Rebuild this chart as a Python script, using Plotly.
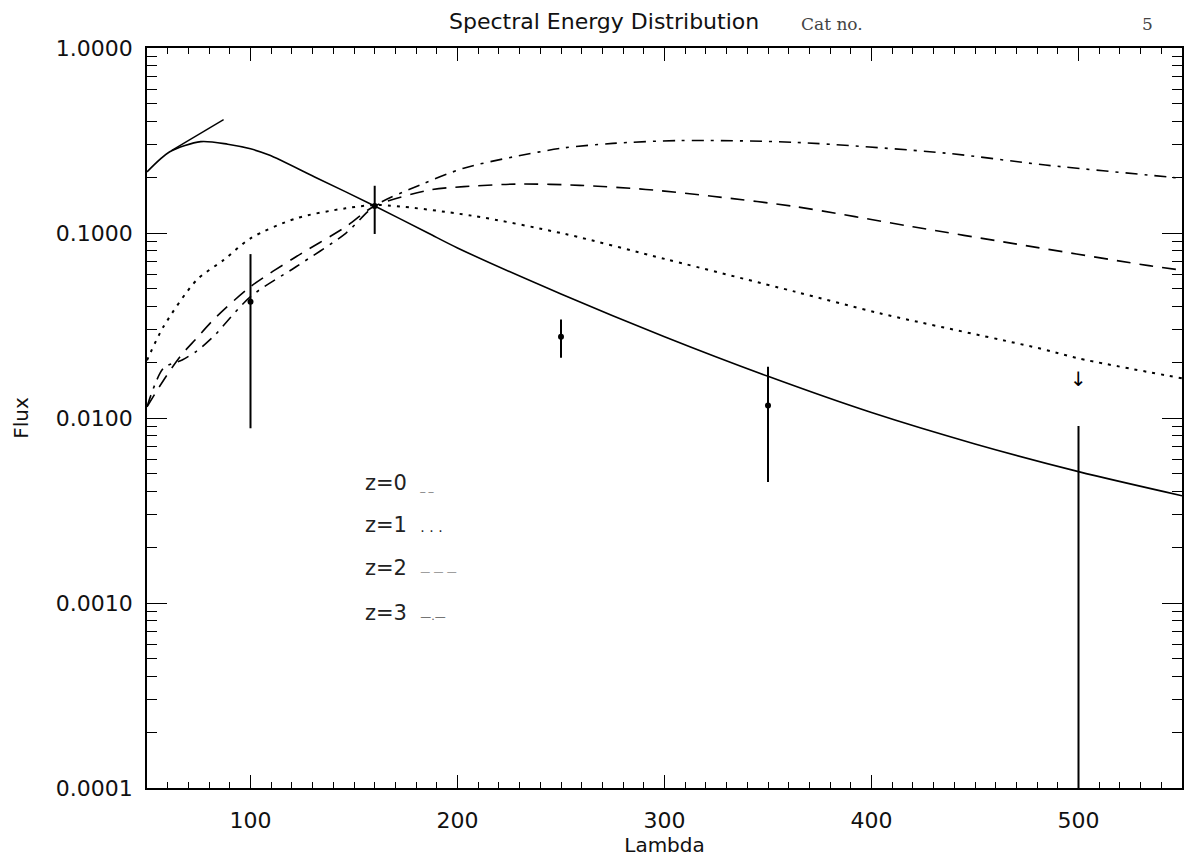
import math
import plotly.graph_objects as go

# ---- model curves (lambda, flux) ----
z0_lam = [50, 61, 76, 89, 100, 109, 131, 160, 186, 200, 250, 300, 350, 400, 450, 500, 550]
z0_flux = [0.214, 0.275, 0.312, 0.302, 0.285, 0.264, 0.201, 0.140, 0.0996, 0.083, 0.0468, 0.0275,
           0.0168, 0.0107, 0.00724, 0.00513, 0.0038]

tan_lam = [62, 87]
tan_flux = [0.28, 0.41]

z1_lam = [50, 58, 74, 87, 100, 122, 146, 162, 207, 252, 301, 363, 404, 481, 500, 550]
z1_flux = [0.0205, 0.0312, 0.0557, 0.0714, 0.0936, 0.120, 0.136, 0.1416, 0.124, 0.0988, 0.072,
           0.0482, 0.0368, 0.0238, 0.021, 0.0164]

z2_lam = [50, 58, 66, 74, 82, 100, 122, 146, 160, 187, 203, 230, 259, 291, 323, 363, 420, 468, 534, 550]
z2_flux = [0.0115, 0.0160, 0.0215, 0.027, 0.0339, 0.0513, 0.0744, 0.108, 0.140, 0.171, 0.178, 0.184,
           0.181, 0.172, 0.158, 0.139, 0.108, 0.0879, 0.0666, 0.063]

z3_lam = [50, 58, 67, 74, 82, 100, 122, 146, 160, 182, 203, 227, 251, 275, 307, 363, 436, 484, 545, 550]
z3_flux = [0.0115, 0.0186, 0.0206, 0.023, 0.0275, 0.0453, 0.0657, 0.0996, 0.140, 0.182, 0.224, 0.258,
           0.288, 0.305, 0.316, 0.309, 0.270, 0.233, 0.200, 0.197]

# ---- observed points ----
obs_lam = [100, 160, 250, 350]
obs_flux = [0.0425, 0.140, 0.0275, 0.0117]
err_lam = [100, 160, 250, 350, 500]
err_hi = [0.0769, 0.180, 0.0341, 0.0189, 0.00905]
err_lo = [0.0088, 0.0988, 0.0212, 0.00451, 0.00001]

# upper limit marker
lim_lam = 500
lim_flux = 0.0163

FONT = "DejaVu Sans"

fig = go.Figure()

fig.add_trace(go.Scatter(x=z0_lam, y=z0_flux, mode="lines", line=dict(color="black", width=1.6, shape="spline", smoothing=0.8)))
fig.add_trace(go.Scatter(x=tan_lam, y=tan_flux, mode="lines", line=dict(color="black", width=1.4)))
fig.add_trace(go.Scatter(x=z1_lam, y=z1_flux, mode="lines", line=dict(color="black", width=2, dash="3px,6px", shape="spline", smoothing=0.8)))
fig.add_trace(go.Scatter(x=z2_lam, y=z2_flux, mode="lines", line=dict(color="black", width=1.6, dash="14px,9px", shape="spline", smoothing=0.8)))
fig.add_trace(go.Scatter(x=z3_lam, y=z3_flux, mode="lines", line=dict(color="black", width=1.6, dash="12px,7px,3px,7px", shape="spline", smoothing=0.8)))

ex, ey = [], []
for lam, hi, lo in zip(err_lam, err_hi, err_lo):
    ex += [lam, lam, None]
    ey += [lo, hi, None]
fig.add_trace(go.Scatter(x=ex, y=ey, mode="lines", line=dict(color="black", width=2)))
fig.add_trace(go.Scatter(x=obs_lam, y=obs_flux, mode="markers", marker=dict(color="black", size=6)))

annotations = [
    dict(x=lim_lam, y=math.log10(lim_flux), xref="x", yref="y", text="\u2193", showarrow=False,
         xanchor="center", yanchor="middle", font=dict(family=FONT, size=20, color="black")),
    dict(x=0.4417, y=1.0355, xref="paper", yref="paper", text="Spectral Energy Distribution",
         showarrow=False, xanchor="center", yanchor="middle", font=dict(family=FONT, size=22, color="#111")),
    dict(x=0.6615, y=1.032, xref="paper", yref="paper", text="Cat no.",
         showarrow=False, xanchor="center", yanchor="middle", font=dict(family="DejaVu Serif", size=17, color="#444")),
    dict(x=0.967, y=1.032, xref="paper", yref="paper", text="5",
         showarrow=False, xanchor="center", yanchor="middle", font=dict(family="DejaVu Serif", size=17, color="#444")),
]
legend_rows = [
    ("z=0", "<span style='font-size:10px;color:#777'>_ _</span>", 0.412),
    ("z=1", "<span style='font-size:14px;color:#222'>. . .</span>", 0.355),
    ("z=2", "<span style='font-size:10px;color:#888'>\u2014 \u2014 \u2014</span>", 0.297),
    ("z=3", "<span style='font-size:11px;color:#555'>\u2014.\u2014</span>", 0.2365),
]
for lab, suf, yy in legend_rows:
    annotations.append(dict(x=0.2083, y=yy, xref="paper", yref="paper", text=lab + "  " + suf,
                            showarrow=False, xanchor="left", yanchor="middle",
                            font=dict(family=FONT, size=21, color="#222")))

fig.update_layout(
    width=1180, height=850,
    margin=dict(l=139, r=4, t=40, b=70),
    paper_bgcolor="white", plot_bgcolor="white",
    showlegend=False,
    font=dict(family=FONT, size=19, color="black"),
    annotations=annotations,
)
fig.update_xaxes(
    range=[50, 550], dtick=100, tick0=0, ticks="inside", ticklen=13, tickwidth=1.2, tickcolor="black",
    showline=True, linecolor="black", linewidth=1.5, mirror="ticks", showgrid=False, zeroline=False,
    minor=dict(dtick=10, tick0=0, ticks="inside", ticklen=6, tickcolor="black", showgrid=False),
    title=dict(text="Lambda", font=dict(family=FONT, size=20, color="#111"), standoff=6),
    tickfont=dict(family=FONT, size=22, color="#111"), ticklabelstandoff=12,
)
fig.update_yaxes(
    type="log", range=[-4, 0], dtick=1, tickformat=".4f", ticks="inside", ticklen=20, tickwidth=1.2,
    tickcolor="black", showline=True, linecolor="black", linewidth=1.5, mirror="ticks", showgrid=False,
    zeroline=False,
    minor=dict(ticks="inside", ticklen=10, tickcolor="black", showgrid=False),
    title=dict(text="Flux", font=dict(family=FONT, size=20, color="#111"), standoff=22),
    tickfont=dict(family=FONT, size=22, color="#111"), ticklabelstandoff=8,
)
fig.write_html("out.html")
